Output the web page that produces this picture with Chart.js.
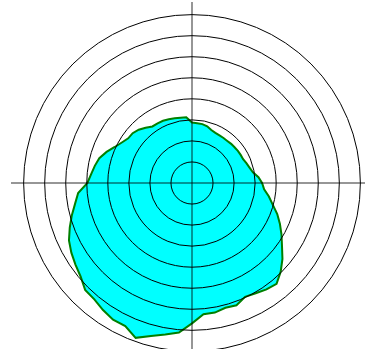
<!DOCTYPE html>
<html>
<head>
<meta charset="utf-8">
<script src="https://cdn.jsdelivr.net/npm/chart.js@4"></script>
<style>
    html, body { margin: 0; padding: 0; background: #fff; overflow: hidden; }
    body { width: 365px; height: 349px; position: relative; }
    #wrap { position: absolute; left: 11px; top: 2px; width: 362px; height: 362px; }
</style>
</head>
<body>
<div id="wrap"><canvas id="polar-chart"></canvas></div>
<script>
// angle of each sample, clockwise from the top (degrees)
const angles = [
    0, 5, 10, 15, 20, 25, 30, 35, 40, 45, 50, 55,
    60, 65, 70, 75, 80, 85, 90, 95, 100, 105, 110, 115,
    120, 125, 130, 135, 140, 145, 150, 155, 160, 165, 170, 175,
    180, 185, 190, 195, 200, 205, 210, 215, 220, 225, 230, 235,
    240, 245, 250, 255, 260, 265, 270, 275, 280, 285, 290, 295,
    300, 305, 310, 315, 320, 325, 330, 335, 340, 345, 350, 355
]
// radius of the outline at each angle (rings at 1..8)
const radius = [
    2.87, 2.85, 2.84, 2.79, 2.68, 2.63, 2.61, 2.61, 2.61, 2.63, 2.64, 2.66,
    2.67, 2.68, 2.75, 2.83, 2.94, 3.17, 3.33, 3.44, 3.71, 3.97, 4.31, 4.61,
    4.91, 5.22, 5.61, 5.96, 6.25, 6.17, 6.05, 5.97, 6.18, 6.14, 6.25, 6.26,
    6.67, 7.13, 7.31, 7.53, 7.83, 7.50, 7.50, 7.37, 7.22, 7.18, 6.91, 6.76,
    6.62, 6.45, 6.18, 5.91, 5.64, 5.43, 4.97, 4.81, 4.69, 4.56, 4.32, 4.05,
    3.85, 3.70, 3.68, 3.58, 3.43, 3.28, 3.27, 3.26, 3.22, 3.18, 3.15, 3.13
]
const ringStep = 1
const ringCount = 8
const axisMax = 8.6

const labels = angles.map(a => a + '°')
const quarter = angles.length / 4

const ctx = document.getElementById('polar-chart').getContext('2d');

new Chart(ctx, {
    type: 'radar',
    data: {
        labels: labels,
        datasets: [{
            label: 'contour',
            data: radius,
            fill: true,
            backgroundColor: '#00ffff',
            borderColor: '#008000',
            borderWidth: 2,
            pointRadius: 0,
            tension: 0
        }]
    },
    options: {
        responsive: true,
        maintainAspectRatio: false,
        animation: false,
        layout: { padding: 0 },
        plugins: {
            legend: { display: false },
            tooltip: { enabled: false }
        },
        scales: {
            r: {
                min: 0,
                max: axisMax,
                ticks: { display: false, stepSize: ringStep, z: 1 },
                pointLabels: { display: false },
                grid: {
                    z: 1, // rings and axes over the fill
                    circular: true,
                    color: (c) => (c.tick && c.tick.value > ringCount * ringStep) ? 'rgba(0,0,0,0)' : '#000',
                    lineWidth: 1
                },
                angleLines: {
                    display: true,
                    color: (c) => c.index % quarter === 0 ? 'rgba(0,0,0,0.55)' : 'rgba(0,0,0,0)',
                    lineWidth: 1.5
                }
            }
        }
    }
});
</script>
</body>
</html>
